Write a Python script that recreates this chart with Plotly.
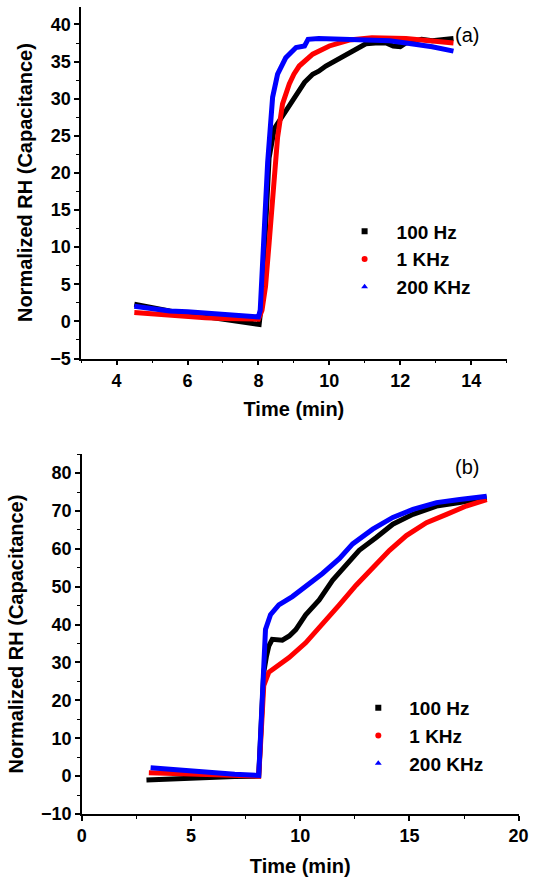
import plotly.graph_objects as go

# ---------------- Data: panel (a) ----------------
a_t_100 = [4.5, 4.8, 5.2, 5.6, 6.0, 6.4, 6.8, 7.2, 7.6, 8.02, 8.1, 8.2, 8.3, 8.45, 8.6, 8.75, 8.87, 9.0, 9.15, 9.3, 9.53, 9.7, 9.9, 10.1, 10.28, 10.45, 10.66, 10.85, 11.03, 11.3, 11.6, 11.8, 12.0, 12.16, 12.4, 12.6, 12.9, 13.2, 13.5]
a_v_100 = [2.3, 2.0, 1.7, 1.3, 1.0, 0.7, 0.4, 0.1, -0.2, -0.4, 3.0, 13.0, 22.0, 26.0, 27.1, 28.2, 28.8, 30.0, 31.0, 32.2, 33.3, 33.7, 34.4, 34.9, 35.5, 35.8, 36.4, 36.9, 37.4, 37.5, 37.5, 37.1, 37.0, 37.5, 37.7, 38.0, 37.8, 38.0, 38.1]

a_t_1k = [4.5, 5.0, 5.5, 6.0, 6.5, 7.0, 7.5, 8.0, 8.1, 8.2, 8.3, 8.4, 8.54, 8.68, 8.87, 9.0, 9.15, 9.53, 10.0, 10.56, 11.2, 12.16, 12.8, 13.5]
a_v_1k = [1.2, 1.0, 0.8, 0.65, 0.5, 0.4, 0.3, 0.3, 1.5, 4.7, 10.5, 16.8, 24.8, 29.3, 32.0, 33.3, 34.4, 36.0, 37.1, 37.9, 38.2, 38.1, 37.8, 37.5]

a_t_200k = [4.5, 5.0, 5.5, 6.0, 6.5, 7.0, 7.5, 8.0, 8.05, 8.11, 8.26, 8.4, 8.54, 8.77, 9.06, 9.3, 9.4, 9.7, 10.28, 11.2, 11.7, 12.16, 12.9, 13.5]
a_v_200k = [2.05, 1.7, 1.4, 1.3, 1.1, 0.9, 0.7, 0.6, 1.5, 7.9, 21.4, 30.2, 33.3, 35.5, 36.9, 37.1, 38.0, 38.1, 38.0, 38.0, 37.8, 37.5, 37.0, 36.4]

# ---------------- Data: panel (b) ----------------
b_t_100 = [2.96, 4.0, 5.0, 6.0, 7.0, 8.1, 8.2, 8.33, 8.45, 8.56, 8.72, 9.0, 9.18, 9.5, 9.8, 10.25, 10.87, 11.48, 12.1, 12.7, 13.48, 14.24, 15.16, 16.24, 17.3, 18.54]
b_v_100 = [-1.0, -0.7, -0.4, -0.2, -0.1, 0.0, 10.0, 27.4, 31.5, 34.3, 36.1, 36.1, 35.9, 37.0, 38.7, 42.6, 46.5, 51.7, 55.7, 59.6, 63.0, 66.5, 69.1, 71.3, 72.2, 73.5]

b_t_1k = [3.07, 4.0, 5.0, 6.0, 7.0, 8.1, 8.18, 8.23, 8.33, 8.56, 8.87, 9.49, 10.25, 11.02, 11.79, 12.56, 13.32, 14.09, 14.86, 15.78, 16.7, 17.6, 18.54]
b_v_1k = [0.9, 0.7, 0.5, 0.3, 0.15, 0.0, 8.0, 16.0, 23.9, 27.4, 28.7, 31.3, 35.2, 40.0, 45.2, 50.4, 55.2, 59.6, 63.5, 66.9, 69.1, 71.3, 73.0]

b_t_200k = [3.15, 4.0, 5.0, 6.0, 7.0, 8.1, 8.18, 8.29, 8.41, 8.64, 9.02, 9.64, 10.25, 11.02, 11.79, 12.4, 13.32, 14.24, 15.16, 16.24, 17.3, 18.54]
b_v_200k = [2.2, 1.8, 1.3, 0.9, 0.5, 0.2, 11.7, 29.1, 38.7, 42.6, 45.2, 47.4, 50.0, 53.5, 57.4, 61.3, 65.2, 68.3, 70.4, 72.2, 73.0, 73.9]

series_names = ["100 Hz", "1 KHz", "200 KHz"]
series_colors = ["#000000", "#ff0000", "#0000ff"]
series_symbols = ["square", "circle", "triangle-up"]

FONT = "Liberation Sans, Arial, sans-serif"
W, H = 540.0, 888.0

fig = go.Figure()

panel_a = [(a_t_100, a_v_100), (a_t_1k, a_v_1k), (a_t_200k, a_v_200k)]
panel_b = [(b_t_100, b_v_100), (b_t_1k, b_v_1k), (b_t_200k, b_v_200k)]

for (t, v), c in zip(panel_a, series_colors):
    fig.add_trace(go.Scatter(x=t, y=v, mode="lines", line=dict(color=c, width=5),
                             showlegend=False, xaxis="x", yaxis="y"))
for (t, v), c in zip(panel_b, series_colors):
    fig.add_trace(go.Scatter(x=t, y=v, mode="lines", line=dict(color=c, width=5),
                             showlegend=False, xaxis="x2", yaxis="y2"))

# legend entries
for n, c, s in zip(series_names, series_colors, series_symbols):
    fig.add_trace(go.Scatter(x=[None], y=[None], mode="markers", name=n,
                             marker=dict(color=c, symbol=s, size=6),
                             legend="legend", xaxis="x", yaxis="y"))
for n, c, s in zip(series_names, series_colors, series_symbols):
    fig.add_trace(go.Scatter(x=[None], y=[None], mode="markers", name=n,
                             marker=dict(color=c, symbol=s, size=6),
                             legend="legend2", xaxis="x2", yaxis="y2"))

tickfont = dict(family=FONT, size=18, color="black", weight="bold")
ytitlefont = dict(family=FONT, size=20, color="black", weight="bold")
xtitlefont = dict(family=FONT, size=20, color="black", weight="bold")
legfont = dict(family=FONT, size=19, color="black", weight="bold")

def axis_common():
    return dict(showline=True, linecolor="black", linewidth=1.5, ticks="outside",
                ticklen=5, tickwidth=1.5, tickcolor="black", showgrid=False,
                zeroline=False, tickfont=tickfont, mirror=False)

def minor(d):
    return dict(ticks="outside", ticklen=3, tickwidth=1.2, dtick=d, tick0=0, tickcolor="black")

fig.update_layout(
    width=540, height=888,
    margin=dict(l=0, r=0, t=0, b=0, pad=0),
    paper_bgcolor="white", plot_bgcolor="white",
    xaxis=dict(domain=[78.3 / W, 516 / W], range=[3, 15], dtick=2, tick0=0,
               minor=minor(1),
               title=dict(text="Time (min)", font=xtitlefont, standoff=12),
               anchor="y", **axis_common()),
    yaxis=dict(domain=[1 - 362.6 / H, 1 - 6.7 / H], range=[-5, 42.4], dtick=5, tick0=0,
               minor=minor(2.5),
               title=dict(text="Normalized RH (Capacitance)", font=ytitlefont, standoff=12),
               anchor="x", **axis_common()),
    xaxis2=dict(domain=[79 / W, 528.3 / W], range=[0, 20], dtick=5, tick0=0,
                minor=minor(2.5),
                title=dict(text="Time (min)", font=xtitlefont, standoff=14),
                anchor="y2", **axis_common()),
    yaxis2=dict(domain=[1 - 823.3 / H, 1 - 459.3 / H], range=[-10, 85], dtick=10, tick0=0,
                minor=minor(5),
                title=dict(text="Normalized RH (Capacitance)", font=ytitlefont, standoff=12),
                anchor="x2", **axis_common()),
    legend=dict(x=0.624, y=0.758, xanchor="left", yanchor="top", bgcolor="rgba(0,0,0,0)",
                font=legfont, itemwidth=54),
    legend2=dict(x=0.652, y=0.2153, xanchor="left", yanchor="top", bgcolor="rgba(0,0,0,0)",
                 font=legfont, itemwidth=52),
    annotations=[
        dict(text="(a)", x=475 / W, y=1 - 35 / H, xref="paper", yref="paper",
             xanchor="center", yanchor="middle",
             showarrow=False, font=dict(family=FONT, size=20, color="black")),
        dict(text="(b)", x=475 / W, y=1 - 472 / H, xref="paper", yref="paper",
             xanchor="center", yanchor="middle",
             showarrow=False, font=dict(family=FONT, size=20, color="black")),
    ],
)

fig.write_html(
    "out.html",
    config={"displayModeBar": False},
    post_script=("document.documentElement.style.overflow='hidden';"
                 "document.body.style.overflow='hidden';"
                 "document.body.style.margin='0px';"),
)
